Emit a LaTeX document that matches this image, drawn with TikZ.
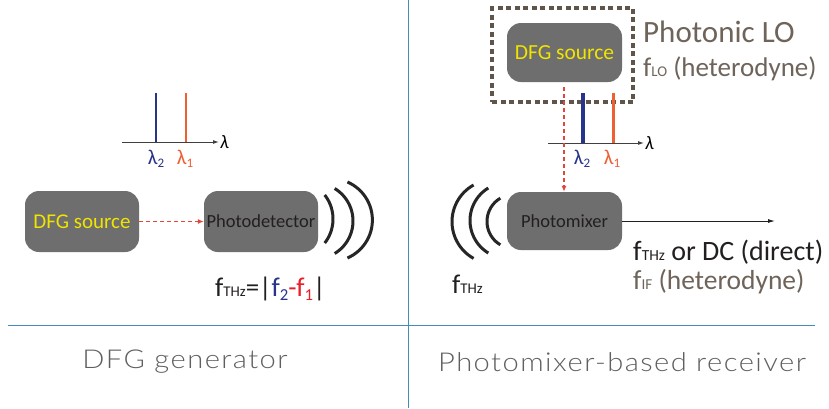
\documentclass[tikz,border=0pt]{standalone}
\usepackage{fontspec}
\usepackage{graphicx}
\setmainfont{Carlito}
\newfontfamily\thinfont[LetterSpace=5]{Lato Light}
\usetikzlibrary{arrows.meta}
\definecolor{boxgray}{RGB}{110,110,110}
\definecolor{srcyellow}{RGB}{240,228,0}
\definecolor{lblue}{RGB}{40,52,140}
\definecolor{lorange}{RGB}{238,95,50}
\definecolor{fred}{RGB}{235,30,40}
\definecolor{arrred}{RGB}{225,70,60}
\definecolor{browngray}{RGB}{110,100,90}
\definecolor{framebrown}{RGB}{95,85,75}
\definecolor{divider}{RGB}{70,140,185}
\definecolor{captiongray}{RGB}{95,95,95}
\definecolor{inkblack}{RGB}{35,31,32}
\newcommand\lowsub[1]{\scalebox{0.55}{#1}}
\newcommand\numsub[1]{\raisebox{-0.15em}{\scalebox{0.62}{#1}}}
\newcommand\widecap[1]{\scalebox{1.12}[1]{#1}}
\begin{document}
\begin{tikzpicture}[x=1pt,y=-1pt,
  srcbox/.style={rounded corners=14pt, fill=boxgray, draw=none, inner sep=0pt, text=inkblack},
  redarrow/.style={draw=arrred, line width=1.3pt, dash pattern=on 4pt off 3pt, -{Latex[length=6pt,width=5pt]}},
  outarrow/.style={draw=inkblack, line width=0.9pt, -{Latex[length=7pt,width=4pt]}},
  axisline/.style={draw=black!75, line width=1pt, -{Latex[length=6pt,width=4pt]}},
  wave/.style={draw=black!85, line width=3pt},
  framebox/.style={draw=framebrown, line width=3.5pt, dash pattern=on 5pt off 3.5pt, inner sep=0pt},
  caption/.style={font=\thinfont\fontsize{26}{29}\selectfont, text=captiongray},
  plain/.style={anchor=base west, inner sep=0pt, text=inkblack},
  lamlabel/.style={font=\fontsize{21}{24}\selectfont}
]
\useasboundingbox (0,0) rectangle (829,408);
\fill[white] (0,0) rectangle (829,408);

% dividers
\draw[divider, line width=0.9pt] (408,0) -- (408,408);
\draw[divider, line width=0.9pt] (8,325) -- (815,325);

% ---------- left: DFG generator ----------
\coordinate (axL0) at (122,142);
\coordinate (axL1) at (219,142);
\draw[lblue, line width=2.5pt] (156,93) -- (156,142);
\draw[lorange, line width=2.5pt] (186,93) -- (186,142);
\draw[axisline] (axL0) -- (axL1);
\node[anchor=west, inner sep=1pt, font=\fontsize{19}{22}\selectfont\itshape] (lamL) at (axL1) {λ};
\node[text=lblue, lamlabel] (l2L) at (156,159) {λ\numsub{2}};
\node[text=lorange, lamlabel] (l1L) at (185,159) {λ\numsub{1}};

\node[srcbox, minimum width=114pt, minimum height=61pt] (srcL) at (82,221.5)
  {\fontsize{21}{24}\selectfont\color{srcyellow}DFG source};
\node[srcbox, minimum width=114pt, minimum height=61pt] (pd) at (261,221.5)
  {\fontsize{18.5}{22}\selectfont Photodetector};
\draw[redarrow] (srcL) -- (pd);

\draw[wave] plot[domain=-38:38, samples=30] ({294+39*cos(\x)},{219+39*sin(\x)});
\draw[wave] plot[domain=-58.8:58.8, samples=30] ({315+38*cos(\x)},{221+38*sin(\x)});
\draw[wave] plot[domain=-66.6:66.6, samples=30] ({331+41.4*cos(\x)},{220+41.4*sin(\x)});

\node[plain, font=\fontsize{27}{30}\selectfont] (fthzL) at (215,296)
  {f\lowsub{THz}=|{\color{lblue}f\numsub{2}}{\color{fred}-f\numsub{1}}|};

\node[caption] (capL) at (185,362) {\widecap{DFG generator}};

% ---------- right: photomixer receiver ----------
\node[framebox, minimum width=141pt, minimum height=94pt] (lo) at (562.5,55) {};
\node[srcbox, minimum width=115pt, minimum height=59pt] (srcR) at (564.5,52.5)
  {\fontsize{21.5}{24}\selectfont\color{srcyellow}DFG source};
\node[plain, text=browngray, font=\fontsize{31}{34}\selectfont] (plo) at (643,42) {Photonic LO};
\node[plain, text=browngray, font=\fontsize{27}{30}\selectfont] (flo) at (643,76) {f\lowsub{LO} (heterodyne)};

\coordinate (axR0) at (548,143);
\coordinate (axR1) at (644,143);
\draw[lblue, line width=3.5pt] (583,93) -- (583,143);
\draw[lorange, line width=3pt] (613,93) -- (613,143);
\draw[axisline] (axR0) -- (axR1);
\node[anchor=west, inner sep=1pt, font=\fontsize{19}{22}\selectfont\itshape] (lamR) at (axR1) {λ};
\node[text=lblue, lamlabel] (l2R) at (582,159) {λ\numsub{2}};
\node[text=lorange, lamlabel] (l1R) at (612,159) {λ\numsub{1}};

\node[srcbox, minimum width=115pt, minimum height=58pt] (pm) at (564.5,221)
  {\fontsize{18.5}{22}\selectfont Photomixer};
\coordinate (loout) at (564,87);
\draw[redarrow] (loout) -- (loout |- pm.north);
\coordinate (outend) at (775,221);
\draw[outarrow] (pm.east) -- (outend);

\draw[wave] plot[domain=120.4:239.6, samples=30] ({514+27*cos(\x)},{221.5+27*sin(\x)});
\draw[wave] plot[domain=121.2:238.8, samples=30] ({508+38*cos(\x)},{220.5+38*sin(\x)});
\draw[wave] plot[domain=119.1:240.9, samples=30] ({494+42*cos(\x)},{221.7+42*sin(\x)});

\node[plain, font=\fontsize{27}{30}\selectfont] (fthzR) at (452,293) {f\lowsub{THz}};
\node[plain, font=\fontsize{28}{31}\selectfont] (fout) at (633,260) {f\lowsub{THz} or DC (direct)};
\node[plain, text=browngray, font=\fontsize{27.5}{30}\selectfont] (fif) at (633,289) {f\lowsub{IF} (heterodyne)};

\node[caption] (capR) at (622,362) {\widecap{Photomixer-based receiver}};
\end{tikzpicture}
\end{document}
